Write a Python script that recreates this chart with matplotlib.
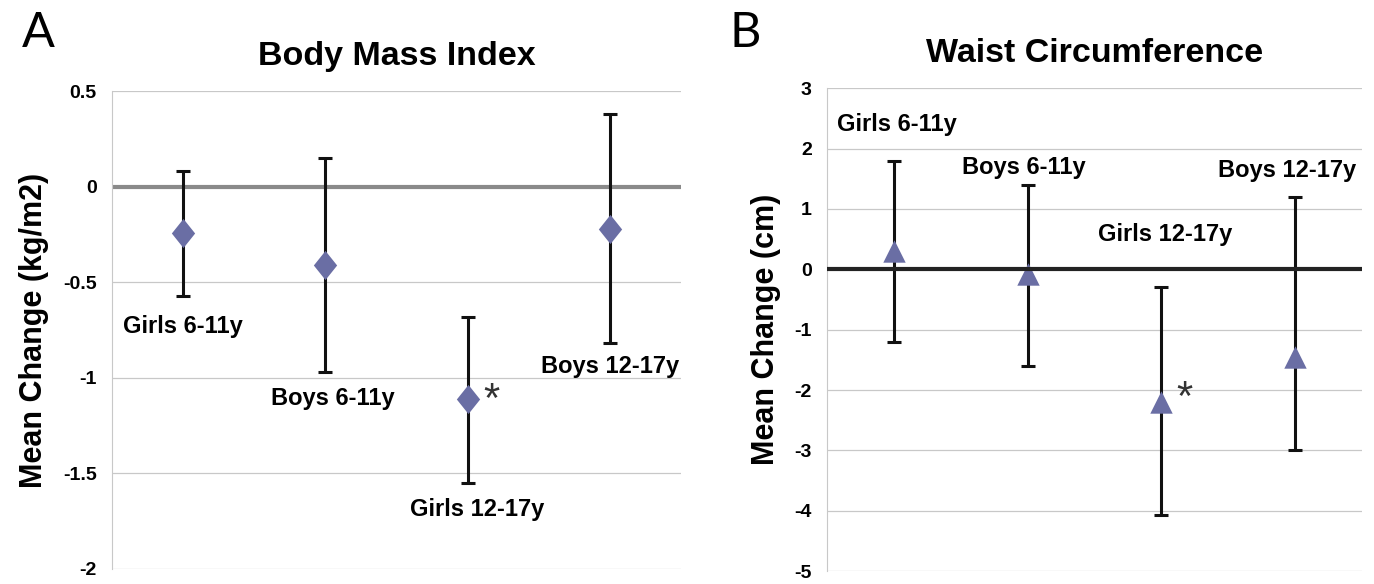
import matplotlib
matplotlib.use("Agg")
import matplotlib.pyplot as plt
import numpy as np

plt.rcParams['font.family'] = ['Liberation Sans', 'DejaVu Sans']

groups = ["Girls 6-11y", "Boys 6-11y", "Girls 12-17y", "Boys 12-17y"]

# panel A: BMI change (kg/m2)
bmi_mean = [-0.24, -0.41, -1.11, -0.22]
bmi_hi = [0.08, 0.15, -0.68, 0.38]
bmi_lo = [-0.57, -0.97, -1.55, -0.82]
bmi_lab_y = [-0.73, -1.11, -1.69, -0.94]
bmi_lab_dx = [0.0, 0.05, 0.07, 0.0]

# panel B: waist change (cm)
wc_mean = [0.3, -0.08, -2.2, -1.45]
wc_hi = [1.8, 1.4, -0.3, 1.2]
wc_lo = [-1.2, -1.6, -4.07, -3.0]
wc_lab_y = [2.4, 1.69, 0.57, 1.64]
wc_lab_dx = [0.02, -0.03, 0.03, -0.06]

col = "#6a6ea4"
diamond = [(0, 1), (0.8, 0), (0, -1), (-0.8, 0), (0, 1)]

fig = plt.figure(figsize=(13.74, 5.84), dpi=100)
axA = fig.add_axes([0.0815, 0.026, 0.414, 0.818])
axB = fig.add_axes([0.602, 0.022, 0.389, 0.827])


def panel(ax, mean, hi, lo, lab_y, lab_dx, marker, msize, ylim, ticks, zcol, zz,
          title, tpad, ylabel, star):
    x = np.arange(len(groups))
    mean = np.array(mean)
    err = [mean - np.array(lo), np.array(hi) - mean]
    ax.set_xlim(-0.5, 3.5)
    ax.set_ylim(*ylim)
    ax.set_yticks(ticks)
    ax.set_yticklabels([("%g" % t) for t in ticks], fontsize=14, fontweight="bold")
    ax.set_xticks([])
    ax.grid(axis="y", color="#c8c8c8", lw=0.9)
    ax.set_axisbelow(True)
    for s in ["top", "right", "bottom"]:
        ax.spines[s].set_visible(False)
    ax.spines["left"].set_color("#c8c8c8")
    ax.tick_params(axis="y", length=0, pad=11)
    ax.axhline(0, color=zcol, lw=3, zorder=zz)
    ax.errorbar(x, mean, yerr=err, fmt="none", ecolor="#111111", elinewidth=2.2,
                capsize=5, capthick=2.2, zorder=3)
    ax.scatter(x, mean, marker=marker, s=msize, color=col, zorder=4, linewidths=0)
    for i, g in enumerate(groups):
        ax.text(x[i] + lab_dx[i], lab_y[i], g, ha="center", va="center",
                fontsize=17, fontweight="bold")
    ax.text(star[0], star[1], "*", ha="center", va="center", fontsize=30, color="#333333")
    ax.set_title(title, fontsize=24.5, fontweight="bold", pad=tpad)
    ax.set_ylabel(ylabel, fontsize=22, fontweight="bold", labelpad=10)


panel(axA, bmi_mean, bmi_hi, bmi_lo, bmi_lab_y, bmi_lab_dx, diamond, 440,
      (-2, 0.5), [0.5, 0, -0.5, -1, -1.5, -2], "#8a8a8a", 2,
      "Body Mass Index", 19, "Mean Change (kg/m2)", (2.17, -1.12))
panel(axB, wc_mean, wc_hi, wc_lo, wc_lab_y, wc_lab_dx, "^", 260,
      (-5, 3), [3, 2, 1, 0, -1, -2, -3, -4, -5], "#222222", 5,
      "Waist Circumference", 19, "Mean Change (cm)", (2.17, -2.15))

fig.text(0.016, 0.943, "A", fontsize=35, family="Lato", va="center")
fig.text(0.531, 0.943, "B", fontsize=35, family="Lato", va="center")

fig.savefig("out.png", dpi=100)
